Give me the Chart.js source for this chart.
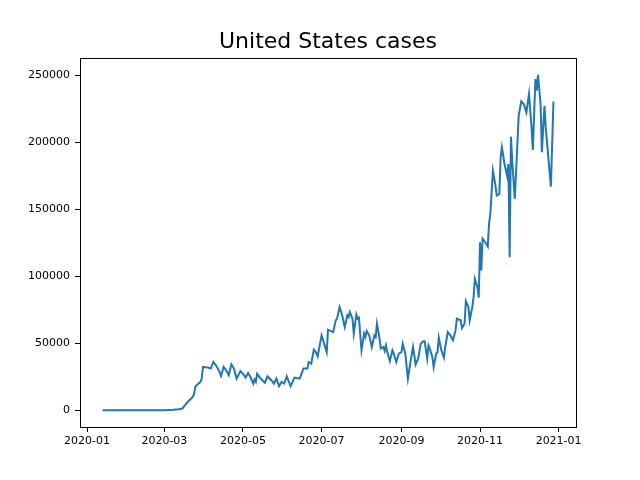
<!DOCTYPE html>
<html>
<head>
<meta charset="utf-8">
<title>United States cases</title>
<script src="https://cdn.jsdelivr.net/npm/chart.js@4.4.1/dist/chart.umd.min.js"></script>
<style>
  html, body { margin: 0; padding: 0; background: #fff; }
  #chart { display: block; }
</style>
</head>
<body>
<canvas id="chart" width="640" height="480"></canvas>
<script>
// daily new cases (gaps = missing days)
const dates = [
  '2020-01-13', '2020-02-10', '2020-03-01', '2020-03-08', '2020-03-12', '2020-03-15', '2020-03-16',
  '2020-03-19', '2020-03-23', '2020-03-24', '2020-03-25', '2020-03-26', '2020-03-29', '2020-03-30',
  '2020-03-31', '2020-04-04', '2020-04-06', '2020-04-08', '2020-04-10', '2020-04-12', '2020-04-14',
  '2020-04-16', '2020-04-18', '2020-04-20', '2020-04-22', '2020-04-24', '2020-04-26', '2020-04-29',
  '2020-05-01', '2020-05-03', '2020-05-05', '2020-05-07', '2020-05-09', '2020-05-10', '2020-05-11',
  '2020-05-12', '2020-05-14', '2020-05-18', '2020-05-20', '2020-05-23', '2020-05-25', '2020-05-27',
  '2020-05-29', '2020-05-31', '2020-06-02', '2020-06-04', '2020-06-07', '2020-06-10', '2020-06-14',
  '2020-06-17', '2020-06-20', '2020-06-21', '2020-06-23', '2020-06-25', '2020-06-27', '2020-06-28',
  '2020-07-01', '2020-07-03', '2020-07-05', '2020-07-06', '2020-07-10', '2020-07-12', '2020-07-13',
  '2020-07-15', '2020-07-17', '2020-07-19', '2020-07-21', '2020-07-22', '2020-07-23', '2020-07-25',
  '2020-07-26', '2020-07-28', '2020-07-29', '2020-07-30', '2020-08-01', '2020-08-03', '2020-08-04',
  '2020-08-05', '2020-08-07', '2020-08-09', '2020-08-11', '2020-08-12', '2020-08-13', '2020-08-15',
  '2020-08-16', '2020-08-18', '2020-08-19', '2020-08-20', '2020-08-21', '2020-08-23', '2020-08-25',
  '2020-08-26', '2020-08-28', '2020-08-30', '2020-09-01', '2020-09-02', '2020-09-04', '2020-09-06',
  '2020-09-08', '2020-09-10', '2020-09-11', '2020-09-12', '2020-09-14', '2020-09-16', '2020-09-18',
  '2020-09-19', '2020-09-21', '2020-09-22', '2020-09-23', '2020-09-25', '2020-09-26', '2020-09-28',
  '2020-09-29', '2020-09-30', '2020-10-02', '2020-10-04', '2020-10-05', '2020-10-07', '2020-10-09',
  '2020-10-11', '2020-10-13', '2020-10-14', '2020-10-17', '2020-10-18', '2020-10-20', '2020-10-21',
  '2020-10-23', '2020-10-24', '2020-10-26', '2020-10-27', '2020-10-28', '2020-10-30', '2020-10-31',
  '2020-11-01', '2020-11-02', '2020-11-03', '2020-11-05', '2020-11-07', '2020-11-08', '2020-11-09',
  '2020-11-11', '2020-11-13', '2020-11-14', '2020-11-16', '2020-11-17', '2020-11-18', '2020-11-20',
  '2020-11-22', '2020-11-23', '2020-11-24', '2020-11-25', '2020-11-26', '2020-11-28', '2020-11-30',
  '2020-12-01', '2020-12-03', '2020-12-05', '2020-12-07', '2020-12-09', '2020-12-11', '2020-12-12',
  '2020-12-14', '2020-12-15', '2020-12-16', '2020-12-18', '2020-12-19', '2020-12-21', '2020-12-22',
  '2020-12-26', '2020-12-28'
];
const cases = [
  0, 0, 50, 400, 800, 1300, 2500,
  6200, 9900, 11900, 17400, 18600, 21100, 23600,
  32300, 31800, 31100, 36000, 33500, 30300, 25600,
  32300, 29800, 26100, 34300, 31100, 23600, 29100,
  27300, 24400, 27800, 24400, 19900, 22900, 21100,
  27300, 24400, 20600, 25300, 22400, 19900, 23600,
  17900, 21100, 19900, 25300, 17900, 24400, 23600,
  31100, 31100, 36000, 34800, 45200, 42700, 40200,
  55900, 49700, 43400, 60100, 58300, 67100, 68300,
  77000, 70800, 62100, 70800, 69500, 73300, 68300,
  57200, 71500, 68300, 69100, 44700, 57200, 54600,
  59100, 55900, 47200, 55900, 54600, 64600, 53400,
  46000, 47200, 44200, 48400, 43400, 36700, 44700,
  42300, 36000, 42300, 43400, 49700, 42300, 23600,
  36000, 47200, 41000, 34100, 38500, 49700, 51400,
  51400, 38500, 48400, 46000, 39700, 32300, 42300,
  43400, 54200, 44700, 39300, 47200, 58300, 55900,
  52200, 59600, 68300, 67100, 61300, 64600, 81400,
  77000, 67100, 77000, 84400, 98100, 91900, 84000,
  125400, 104300, 128000, 125400, 122200, 139100, 146600,
  178800, 167700, 160200, 161500, 188800, 196200, 183800,
  175100, 183800, 114200, 204200, 186300, 157800, 198700,
  219800, 230500, 228500, 222300, 236000, 211100, 194300,
  247200, 238500, 250400, 228600, 192500, 227300, 211100,
  166900, 230500
];

const xTickDates = ['2020-01-01', '2020-03-01', '2020-05-01', '2020-07-01', '2020-09-01', '2020-11-01', '2021-01-01'];
const xTickLabels = ['2020-01', '2020-03', '2020-05', '2020-07', '2020-09', '2020-11', '2021-01'];
const yTicks = [0, 50000, 100000, 150000, 200000, 250000];

// days since 2020-01-01, so a plain linear scale can stand in for a time scale
const dayOf = s => {
  const [y, m, d] = s.split('-').map(Number);
  return (Date.UTC(y, m - 1, d) - Date.UTC(2020, 0, 1)) / 86400000;
};

const points = dates.map((d, i) => ({ x: dayOf(d), y: cases[i] }));
const xTickPos = xTickDates.map(dayOf);

// matplotlib style 5% margins around the data
const xFirst = points[0].x, xLast = points[points.length - 1].x;
const xPad = (xLast - xFirst) * 0.05;
const yMaxData = Math.max(...cases);
const yPad = yMaxData * 0.05;

const frame = {
  id: 'frame',
  afterDraw(chart) {
    const { ctx, chartArea: a } = chart;
    ctx.save();
    ctx.strokeStyle = '#000';
    ctx.lineWidth = 1;
    ctx.strokeRect(Math.round(a.left) + 0.5, Math.round(a.top) + 0.5,
      Math.round(a.right - a.left), Math.round(a.bottom - a.top));
    ctx.restore();
  }
};

const tickFont = { family: 'DejaVu Sans', size: 11 };

new Chart(document.getElementById('chart').getContext('2d'), {
  type: 'line',
  data: {
    datasets: [{
      label: 'cases',
      data: points,
      borderColor: '#1f77b4',
      borderWidth: 2,
      pointRadius: 0,
      tension: 0,
      fill: false
    }]
  },
  options: {
    responsive: false,
    animation: false,
    devicePixelRatio: 1,
    layout: { padding: { left: 0, right: 64, top: 0, bottom: 0 } },
    plugins: {
      legend: { display: false },
      tooltip: { enabled: false },
      title: {
        display: true,
        fullSize: false, // centre over the plot area, like matplotlib
        text: 'United States cases',
        color: '#000',
        font: { family: 'DejaVu Sans', size: 22, weight: 'normal', lineHeight: 1.2 },
        padding: { top: 29, bottom: 2.6 }
      }
    },
    scales: {
      x: {
        type: 'linear',
        min: xFirst - xPad,
        max: xLast + xPad,
        afterBuildTicks: s => { s.ticks = xTickPos.map(v => ({ value: v })); },
        afterFit: s => { s.height = 53; },
        ticks: {
          color: '#000',
          font: tickFont,
          padding: 3,
          maxRotation: 0,
          autoSkip: false,
          callback: v => xTickLabels[xTickPos.indexOf(v)]
        },
        grid: { drawOnChartArea: false, drawTicks: true, tickLength: 5, color: '#000' },
        border: { display: true, color: '#000' }
      },
      y: {
        type: 'linear',
        min: -yPad,
        max: yMaxData + yPad,
        afterBuildTicks: s => { s.ticks = yTicks.map(v => ({ value: v })); },
        afterFit: s => { s.width = 80; },
        ticks: {
          color: '#000',
          font: tickFont,
          padding: 5,
          autoSkip: false,
          callback: v => String(v)
        },
        grid: { drawOnChartArea: false, drawTicks: true, tickLength: 5, color: '#000' },
        border: { display: true, color: '#000' }
      }
    }
  },
  plugins: [frame]
});
</script>
</body>
</html>
